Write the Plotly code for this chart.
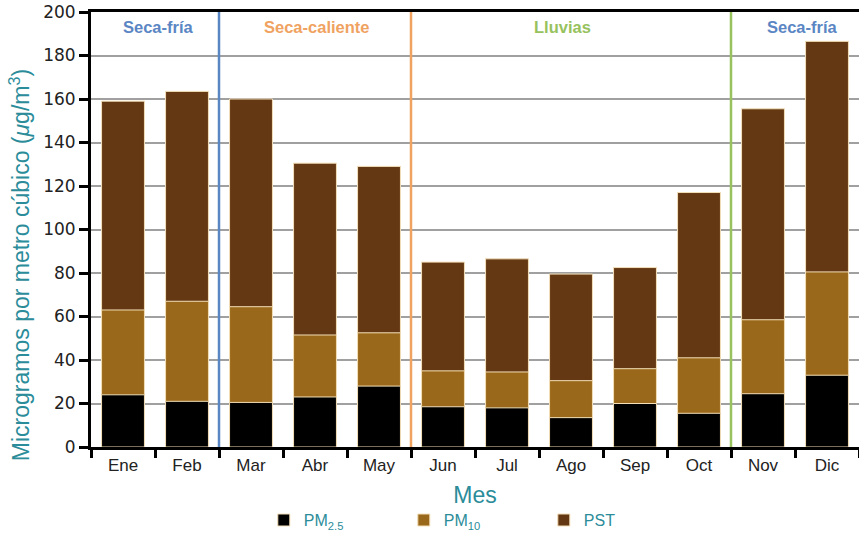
import plotly.graph_objects as go

meses = ["Ene", "Feb", "Mar", "Abr", "May", "Jun", "Jul", "Ago", "Sep", "Oct", "Nov", "Dic"]
pm25 = [24, 21, 20.5, 23, 28, 18.5, 18, 13.5, 20, 15.5, 24.5, 33]
pm10 = [63, 67, 64.5, 51.5, 52.5, 35, 34.5, 30.5, 36, 41, 58.5, 80.5]
pst = [159, 163.5, 160, 130.5, 129, 85, 86.5, 79.5, 82.5, 117, 155.5, 186.5]

temporadas = ["Seca-fría", "Seca-caliente", "Lluvias", "Seca-fría"]
temporada_centro = [0.55, 3.03, 6.86, 10.61]
temporada_color = ["#5b86c4", "#f0a261", "#97c25e", "#5b86c4"]
cortes = [1.5, 4.5, 9.5]
corte_color = ["#5b86c4", "#f0a261", "#97c25e"]

FONT = "Liberation Sans, Arial, sans-serif"
TEAL = "#2b8c9a"
outline = dict(color="#f3dfb8", width=1)

fig = go.Figure()
fig.add_trace(go.Bar(x=meses, y=pst, name="PST", marker=dict(color="#643813", line=outline), legendrank=3))
fig.add_trace(go.Bar(x=meses, y=pm10, name="PM<sub>10</sub>", marker=dict(color="#9a681a", line=outline), legendrank=2))
fig.add_trace(go.Bar(x=meses, y=pm25, name="PM<sub>2.5</sub>", marker=dict(color="#000000", line=outline), legendrank=1))

for xc, col in zip(cortes, corte_color):
    fig.add_shape(type="line", xref="x", yref="y", x0=xc, x1=xc, y0=0, y1=200,
                  line=dict(color=col, width=2.5), layer="between")

for t, xc, col in zip(temporadas, temporada_centro, temporada_color):
    fig.add_annotation(x=xc, y=193, xref="x", yref="y", text="<b>" + t + "</b>",
                       showarrow=False, font=dict(family=FONT, size=16.5, color=col))

# y-axis title as annotation (offset downward like the reference)
fig.add_annotation(xref="paper", yref="paper", x=0, y=0.418, xanchor="center", yanchor="middle",
                   xshift=-71, textangle=-90, showarrow=False,
                   text="Microgramos por metro cúbico (<i>μ</i>g/m<sup>3</sup>)",
                   font=dict(family=FONT, size=23, color=TEAL))

fig.update_layout(
    width=859, height=537,
    margin=dict(l=91, r=0, t=12, b=90, autoexpand=False),
    plot_bgcolor="white", paper_bgcolor="white",
    barmode="overlay", bargap=0.33,
    font=dict(family=FONT, size=16, color="#222"),
    legend=dict(orientation="h", x=0.225, xanchor="left", y=-0.129, yanchor="top",
                font=dict(size=16, color=TEAL), entrywidth=95, entrywidthmode="pixels",
                itemwidth=30, traceorder="normal"),
    showlegend=True,
)
fig.update_xaxes(
    type="category", range=[-0.5, 11.5], showline=True, linecolor="black", linewidth=3,
    mirror=True, ticks="outside", tickson="boundaries", ticklen=8, tickwidth=2.5, tickcolor="black",
    showgrid=False, tickfont=dict(size=17, color="#222"), automargin=False, ticklabelstandoff=1,
    title=dict(text="Mes", font=dict(size=23, color=TEAL), standoff=13),
)
fig.update_yaxes(
    range=[0, 200], dtick=20, showline=True, linecolor="black", linewidth=3,
    ticks="outside", ticklen=9, tickwidth=2.5, tickcolor="black",
    showgrid=True, gridcolor="#a0a0a0", gridwidth=2, zeroline=False, automargin=False,
    tickfont=dict(family="DejaVu Sans, sans-serif", size=17, color="#222"),
)

fig.write_html("out.html", config={"displayModeBar": False},
               post_script="document.body.style.margin='0';document.body.style.padding='0';")
